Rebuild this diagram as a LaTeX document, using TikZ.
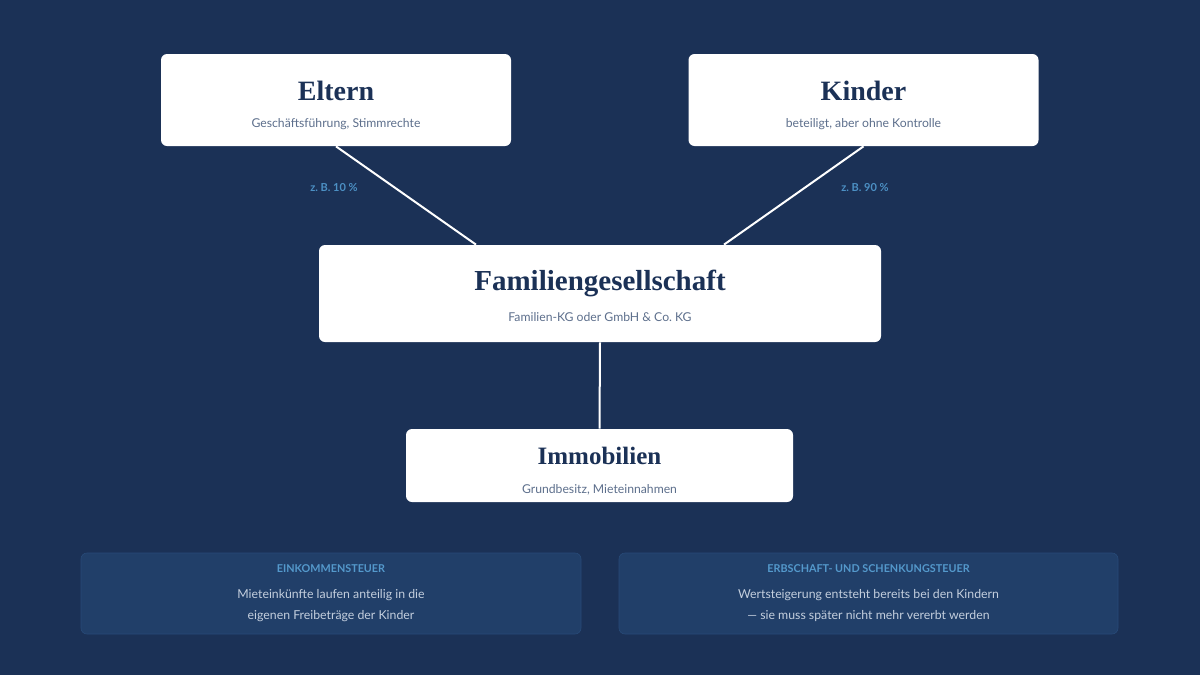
\documentclass[tikz,border=0pt]{standalone}
\usepackage{fontspec}
\setmainfont{Lato}
\newfontfamily\headfont{Liberation Serif}
\usetikzlibrary{positioning}

\definecolor{bgnavy}{HTML}{1B3156}
\definecolor{titlenavy}{HTML}{1B3156}
\definecolor{subgrey}{HTML}{5D6F8C}
\definecolor{sharecol}{HTML}{4C90C4}
\definecolor{notefill}{HTML}{213F69}
\definecolor{noteline}{HTML}{284A78}
\definecolor{notehead}{HTML}{5499CC}
\definecolor{notetext}{HTML}{C4CFDE}

\tikzset{every picture/.style={line width=0.75pt}}
\tikzset{
  card/.style={fill=white, rounded corners=6pt, inner sep=0pt},
  notecard/.style={fill=notefill, draw=noteline, line width=0.6pt, rounded corners=6pt, inner sep=0pt},
  cardtitle/.style={anchor=base, text=titlenavy, inner sep=0pt},
  cardsub/.style={anchor=base, text=subgrey, font=\fontsize{12.2}{14}\selectfont, inner sep=0pt},
  sharelabel/.style={anchor=base, text=sharecol, font=\bfseries\fontsize{11}{12}\selectfont, inner sep=0pt},
  notehd/.style={anchor=base, text=notehead, font=\bfseries\fontsize{10.8}{12}\selectfont, inner sep=0pt},
  notebody/.style={anchor=base, text=notetext, font=\fontsize{12.3}{14}\selectfont, inner sep=0pt},
  link/.style={draw=white, line width=2pt}
}

\begin{document}
\begin{tikzpicture}[x=1pt,y=-1pt]
	%Shape: Background
	\fill[bgnavy] (0,0) rectangle (1200,675);
	\useasboundingbox (0,0) rectangle (1200,675);

	%Shape: Rectangle [Eltern]
	\node[card, minimum width=350pt, minimum height=92pt] (eltern) at (336,100) {};
	%Shape: Rectangle [Kinder]
	\node[card, minimum width=350pt, minimum height=92pt] (kinder) at (863.5,100) {};
	%Shape: Rectangle [Familiengesellschaft]
	\node[card, minimum width=562pt, minimum height=97pt] (famil) at (600,293.5) {};
	%Shape: Rectangle [Immobilien]
	\node[card, minimum width=387pt, minimum height=73pt] (immo) at (599.5,465.5) {};

	%Straight Lines
	\draw[link] (eltern.south) -- ([xshift=-124pt]famil.north);
	%Straight Lines
	\draw[link] (kinder.south) -- ([xshift=124pt]famil.north);
	%Straight Lines
	\draw[link] (famil.south) -- (immo.north);

	% Text Node
	\node[cardtitle, font=\headfont\bfseries\fontsize{28}{30}\selectfont] (elternT) at (336,100.5) {Eltern};
	% Text Node
	\node[cardsub] (elternS) at (336,127.5) {Geschäftsführung, Stimmrechte};
	% Text Node
	\node[cardtitle, font=\headfont\bfseries\fontsize{28}{30}\selectfont] (kinderT) at (863.5,100.5) {Kinder};
	% Text Node
	\node[cardsub] (kinderS) at (863.5,127.5) {beteiligt, aber ohne Kontrolle};
	% Text Node
	\node[cardtitle, font=\headfont\bfseries\fontsize{29}{31}\selectfont] (familT) at (600,290.7) {Familiengesellschaft};
	% Text Node
	\node[cardsub] (familS) at (600,321.5) {Familien-KG oder GmbH \& Co.\ KG};
	% Text Node
	\node[cardtitle, font=\headfont\bfseries\fontsize{25}{27}\selectfont] (immoT) at (599.5,464.3) {Immobilien};
	% Text Node
	\node[cardsub] (immoS) at (599.5,493.5) {Grundbesitz, Mieteinnahmen};

	% Text Node
	\node[sharelabel] (shareE) at (334,191) {z.~B. 10~\%};
	% Text Node
	\node[sharelabel] (shareK) at (865,191) {z.~B. 90~\%};

	%Shape: Rectangle [Einkommensteuer]
	\node[notecard, minimum width=500pt, minimum height=81pt] (estnote) at (331,593.5) {};
	%Shape: Rectangle [Erbschaftsteuer]
	\node[notecard, minimum width=499pt, minimum height=81pt] (erbnote) at (868.5,593.5) {};

	% Text Node
	\node[notehd] (estH) at (331,572) {EINKOMMENSTEUER};
	% Text Node
	\node[notebody] (estA) at (331,598.5) {Mieteinkünfte laufen anteilig in die};
	% Text Node
	\node[notebody] (estB) at (331,619.5) {eigenen Freibeträge der Kinder};
	% Text Node
	\node[notehd] (erbH) at (868.5,572) {ERBSCHAFT- UND SCHENKUNGSTEUER};
	% Text Node
	\node[notebody] (erbA) at (868.5,598.5) {Wertsteigerung entsteht bereits bei den Kindern};
	% Text Node
	\node[notebody] (erbB) at (868.5,619.5) {--- sie muss später nicht mehr vererbt werden};

\end{tikzpicture}
\end{document}
